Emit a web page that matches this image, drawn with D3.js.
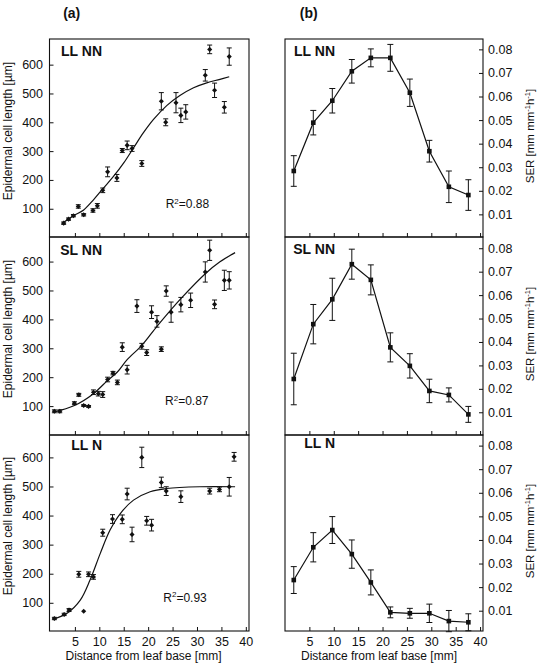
<!DOCTYPE html>
<html><head><meta charset="utf-8">
<script src="https://cdn.jsdelivr.net/npm/d3@7"></script>
<style>
body{margin:0;background:#fff}
text{font-family:"Liberation Sans",Arial,Helvetica,sans-serif;fill:#111}
</style>
</head><body><svg id="c" width="546" height="663"></svg>
<script>
// ---------- DATA ----------
const xTickValues = [5, 10, 15, 20, 25, 30, 35, 40];
const cellTickValues = [100, 200, 300, 400, 500, 600];
const serTickValues = [0.01, 0.02, 0.03, 0.04, 0.05, 0.06, 0.07, 0.08];
const panelNames = ["LL NN", "SL NN", "LL N"];
const r2Values = ["0.88", "0.87", "0.93"];

// epidermal cell length [x (mm), length (µm), error]
const cellLLNN = [[2.7,50,4],[3.7,64,4],[4.7,76,4],[5.7,108,6],[6.8,79,4],[8.7,94,6],[9.6,110,8],
  [10.7,164,8],[11.7,228,17],[13.6,207,12],[14.7,302,7],[15.7,320,15],[16.7,309,10],[18.7,257,10],
  [22.7,473,30],[23.6,400,12],[25.7,468,35],[26.7,424,25],[27.7,436,25],[31.7,563,20],[32.6,653,15],
  [33.6,511,25],[35.6,452,20],[36.6,628,30]];
const cellSLNN = [[0.8,82,5],[1.9,82,5],[4.9,110,5],[5.8,139,5],[6.8,102,3],[7.8,99,3],[8.8,148,8],
  [9.8,143,8],[10.7,140,10],[11.7,192,8],[12.8,214,6],[13.7,182,8],[14.7,304,15],[15.7,226,15],
  [17.7,446,22],[18.7,307,10],[19.7,285,10],[20.7,425,22],[21.8,393,20],[22.7,297,8],[23.7,498,18],
  [24.7,425,35],[26.7,451,25],[28.7,466,25],[31.7,564,35],[32.6,639,35],[33.6,452,15],[35.6,535,35],
  [36.6,535,30]];
const cellLLN = [[0.8,46,4],[2.8,60,4],[3.8,75,5],[5.8,198,10],[6.8,71,0],[7.8,198,8],[8.8,189,8],
  [10.7,341,12],[12.7,388,15],[14.7,387,15],[15.7,474,20],[16.7,335,25],[18.7,600,35],[19.7,382,15],
  [20.7,367,20],[22.7,514,18],[23.7,484,15],[26.7,465,20],[32.6,484,10],[34.6,490,8],[36.6,499,32],
  [37.6,602,15]];

// fitted curves
const fitLLNN = [[2.7,53],[4.7,76],[6.8,96],[8.8,131],[10.7,169],[12.9,212],[15,259],[17,311],[19,363],
  [21.1,410],[23.8,458],[26.5,493],[29.3,520],[32,537],[34.7,549],[36.6,558]];
const fitSLNN = [[0.6,79],[4.9,102],[8.8,143],[11.7,189],[13.7,218],[15.7,261],[18.7,310],[21.8,376],
  [24.7,434],[26.7,472],[31.7,558],[34.7,599],[37.8,631]];
const fitLLN = [[0.6,44],[3.4,64],[6.1,109],[8.1,178],[10.2,270],[12.2,350],[14.3,407],[17,453],
  [20.4,482],[23.8,493],[30.6,499],[37.8,499]];

// segment elongation rate
const serX = [1.8, 5.8, 9.7, 13.7, 17.6, 21.6, 25.6, 29.6, 33.6, 37.6];
const serLLNN = [0.0284, 0.0489, 0.0582, 0.0707, 0.0764, 0.0764, 0.0616, 0.0368, 0.0217, 0.0182];
const serLLNNErr = [0.0065, 0.0052, 0.0052, 0.0050, 0.0038, 0.0057, 0.0058, 0.0046, 0.0067, 0.0065];
const serSLNN = [0.0242, 0.0476, 0.0582, 0.0732, 0.0665, 0.0377, 0.0298, 0.0191, 0.0174, 0.0091];
const serSLNNErr = [0.0110, 0.0084, 0.0090, 0.0064, 0.0064, 0.0062, 0.0052, 0.0050, 0.0030, 0.0034];
const serLLN = [0.0230, 0.0369, 0.0442, 0.0340, 0.0220, 0.0093, 0.0089, 0.0089, 0.0056, 0.0051];
const serLLNErr = [0.0057, 0.0062, 0.0057, 0.0060, 0.0053, 0.0023, 0.0021, 0.0039, 0.0045, 0.0036];

// ---------- LAYOUT ----------
const svg = d3.select("#c");
svg.append("rect").attr("width",546).attr("height",663).attr("fill","#fff");
const rows = [[39,237],[237,435],[435,631]];
const leftX = [49.5, 249], rightX = [285, 483];
const cellDomains = [[2,689],[0,685],[3,677]];
const serDomains = [[0.0004,0.0844],[0.0003,0.0848],[0.0014,0.0845]];
const cellSets = [cellLLNN, cellSLNN, cellLLN];
const fitSets = [fitLLNN, fitSLNN, fitLLN];
const serSets = [serLLNN, serSLNN, serLLN];
const serErrSets = [serLLNNErr, serSLNNErr, serLLNErr];
const INK = "#111";

const xL = d3.scaleLinear().domain([-0.2, 40.65]).range(leftX);
const xR = d3.scaleLinear().domain([0, 40.6]).range(rightX);

function styleAxis(g, fs){
  g.select(".domain").remove();
  g.selectAll(".tick line").attr("stroke",INK).attr("stroke-width",1);
  g.selectAll(".tick text").attr("font-size",fs).attr("fill",INK)
    .attr("font-family","'Liberation Sans',Arial,sans-serif");
}

rows.forEach((r,i)=>{
  const last = i===2;
  // ----- left panel -----
  const yL = d3.scaleLinear().domain(cellDomains[i]).range([r[1], r[0]]);
  const gl = svg.append("g");
  gl.append("g").attr("transform",`translate(0,${r[1]})`)
    .call(d3.axisBottom(xL).tickValues(xTickValues).tickSize(-4).tickPadding(6.5)
      .tickFormat(last? d3.format("d") : ()=>""))
    .call(g=>styleAxis(g,"12.5px"));
  gl.append("g").attr("transform",`translate(${leftX[0]},0)`)
    .call(d3.axisLeft(yL).tickValues(cellTickValues).tickSize(-4).tickPadding(6.5))
    .call(g=>styleAxis(g,"12.5px"));
  gl.append("rect").attr("x",leftX[0]).attr("y",r[0]).attr("width",leftX[1]-leftX[0])
    .attr("height",r[1]-r[0]).attr("fill","none").attr("stroke",INK).attr("stroke-width",1.1);
  // fit
  gl.append("path").datum(fitSets[i])
    .attr("d", d3.line().x(d=>xL(d[0])).y(d=>yL(d[1])).curve(d3.curveCatmullRom))
    .attr("fill","none").attr("stroke",INK).attr("stroke-width",1.2);
  // error bars + points
  const pts = gl.append("g").selectAll("g").data(cellSets[i]).join("g");
  pts.filter(d=>d[2]>0).append("path")
    .attr("d", d=>{const x=xL(d[0]), y1=yL(d[1]-d[2]), y2=yL(d[1]+d[2]);
      return `M${x},${y1}V${y2}M${x-2.5},${y1}H${x+2.5}M${x-2.5},${y2}H${x+2.5}`;})
    .attr("stroke",INK).attr("stroke-width",1).attr("fill","none");
  pts.append("rect").attr("x",d=>xL(d[0])-1.8).attr("y",d=>yL(d[1])-1.8)
    .attr("width",3.6).attr("height",3.6).attr("fill",INK)
    .attr("transform",d=>`rotate(45,${xL(d[0])},${yL(d[1])})`);
  // panel label
  gl.append("text").attr("x",102).attr("y",[56,255,450][i]).attr("text-anchor","end")
    .attr("font-size","14px").attr("font-weight","bold").text(panelNames[i]);
  // R2
  const rt = gl.append("text").attr("x",[165.7,165,163.3][i]).attr("y",[208.3,405,601.7][i])
    .attr("font-size","12px");
  rt.append("tspan").text("R");
  rt.append("tspan").attr("font-size","8px").attr("dy","-4.5").text("2");
  rt.append("tspan").attr("dy","4.5").text("=" + r2Values[i]);
  // y label
  gl.append("text").attr("transform",`translate(12,${(r[0]+r[1])/2-7}) rotate(-90)`)
    .attr("text-anchor","middle").attr("font-size","12px").text("Epidermal cell length [µm]");

  // ----- right panel -----
  const yR = d3.scaleLinear().domain(serDomains[i]).range([r[1], r[0]]);
  const gr = svg.append("g");
  gr.append("g").attr("transform",`translate(0,${r[1]})`)
    .call(d3.axisBottom(xR).tickValues(xTickValues).tickSize(-4).tickPadding(6.5)
      .tickFormat(last? d3.format("d") : ()=>""))
    .call(g=>styleAxis(g,"12.5px"));
  gr.append("g").attr("transform",`translate(${rightX[1]},0)`)
    .call(d3.axisRight(yR).tickValues(serTickValues).tickSize(-4).tickPadding(5)
      .tickFormat(d3.format(".2f")))
    .call(g=>styleAxis(g,"12.5px"));
  gr.append("rect").attr("x",rightX[0]).attr("y",r[0]).attr("width",rightX[1]-rightX[0])
    .attr("height",r[1]-r[0]).attr("fill","none").attr("stroke",INK).attr("stroke-width",1.1);
  const sd = serX.map((x,k)=>[x, serSets[i][k], serErrSets[i][k]]);
  gr.append("path").datum(sd)
    .attr("d", d3.line().x(d=>xR(d[0])).y(d=>yR(d[1])))
    .attr("fill","none").attr("stroke",INK).attr("stroke-width",1.2);
  const sp = gr.append("g").selectAll("g").data(sd).join("g");
  sp.append("path")
    .attr("d", d=>{const x=xR(d[0]), y1=yR(d[1]-d[2]), y2=yR(d[1]+d[2]);
      return `M${x},${y1}V${y2}M${x-3},${y1}H${x+3}M${x-3},${y2}H${x+3}`;})
    .attr("stroke",INK).attr("stroke-width",1).attr("fill","none");
  sp.append("rect").attr("x",d=>xR(d[0])-2.3).attr("y",d=>yR(d[1])-2.3)
    .attr("width",4.6).attr("height",4.6).attr("fill",INK);
  gr.append("text").attr("x",335).attr("y",[56,254.3,448.3][i]).attr("text-anchor","end")
    .attr("font-size","14px").attr("font-weight","bold").text(panelNames[i]);
  const st = gr.append("text").attr("transform",`translate(534,${(r[0]+r[1])/2-2}) rotate(-90)`)
    .attr("text-anchor","middle").attr("font-size","11.5px");
  st.append("tspan").text("SER [mm mm");
  st.append("tspan").attr("font-size","7.5px").attr("dy","-4.5").text("-1");
  st.append("tspan").attr("dy","4.5").text("h");
  st.append("tspan").attr("font-size","7.5px").attr("dy","-4.5").text("-1");
  st.append("tspan").attr("dy","4.5").text("]");
});

// titles and x labels
svg.append("text").attr("x",71.7).attr("y",17.5).attr("text-anchor","middle")
  .attr("font-size","14px").attr("font-weight","bold").text("(a)");
svg.append("text").attr("x",308.8).attr("y",17.5).attr("text-anchor","middle")
  .attr("font-size","14px").attr("font-weight","bold").text("(b)");
svg.append("text").attr("x",143.5).attr("y",660).attr("text-anchor","middle")
  .attr("font-size","12px").text("Distance from leaf base [mm]");
svg.append("text").attr("x",379).attr("y",660).attr("text-anchor","middle")
  .attr("font-size","12px").text("Distance from leaf base [mm]");
</script></body></html>
